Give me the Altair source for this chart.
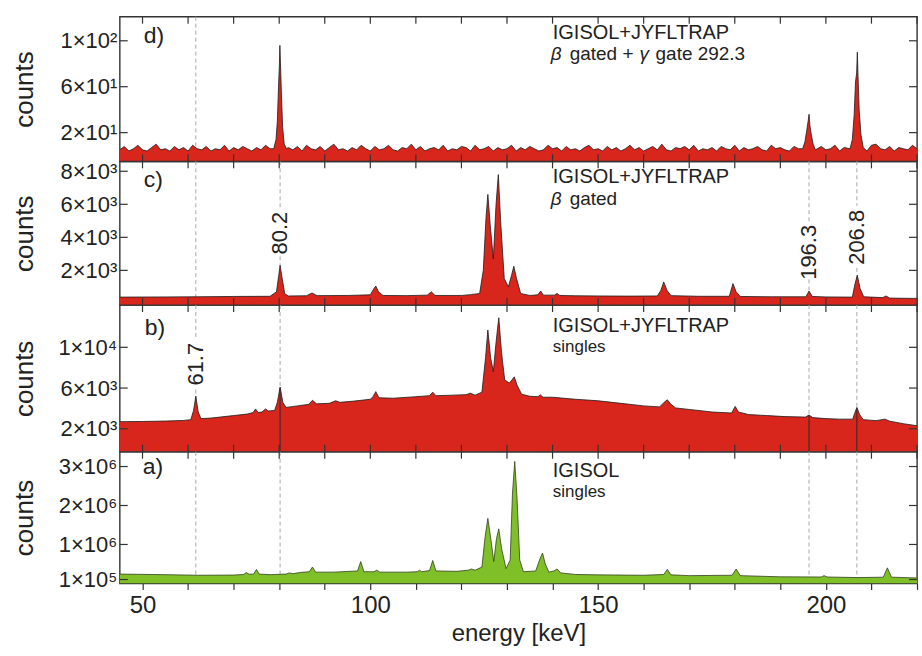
import math
import altair as alt
import pandas as pd

FONT = "Liberation Sans"
TEXT = "#222222"
RED = "#d9261c"
GREEN = "#7fbf27"
EDGE = "#1c1c1c"
GREEN_EDGE = "#34401f"
DASH = "#a9a9a9"
FRAME = "#333333"

X_DOMAIN = [45, 220]
PLOT_W = 799
X_TICKS = list(range(50, 221, 10))

# ---------------- panel d : beta gated + gamma gate 292.3 ----------------
d_base_energy = list(range(45, 221))
d_base_counts = [
    5, 8, 4, 6, 9, 5, 4, 7, 10, 5,
    6, 4, 8, 5, 7, 4, 9, 6, 5, 8,
    4, 6, 5, 9, 4, 7, 5, 8, 6, 4,
    7, 5, 9, 6, 7, 8, 6, 7, 5, 8,
    4, 9, 6, 5, 8, 4, 7, 10, 5, 6,
    4, 7, 5, 9, 6, 4, 8, 5, 6, 9,
    5, 4, 7, 6, 10, 5, 8, 4, 6, 7,
    5, 9, 4, 6, 5, 8, 7, 4, 9, 5,
    6, 8, 4, 7, 5, 6, 9, 4, 7, 5,
    8, 6, 4, 5, 9, 6, 7, 4, 8, 5,
    6, 4, 7, 9, 5, 6, 4, 8, 5, 7,
    4, 6, 9, 5, 7, 4, 6, 8, 5, 10,
    5, 4, 7, 6, 8, 5, 9, 4, 6, 5,
    7, 4, 8, 6, 5, 9, 4, 7, 5, 6,
    8, 5, 4, 9, 6, 7, 5, 4, 8, 6,
    5, 7, 6, 4, 8, 5, 6, 9, 4, 7,
    5, 6, 8, 7, 4, 9, 10, 6, 5, 8,
    4, 7, 6, 5, 9, 6,
]
d_peak_energy = [78.8, 79.3, 79.6, 79.85, 80.05, 80.15, 80.3, 80.5, 80.75, 81.1, 81.6,
                 194.9, 195.4, 195.8, 196.1, 196.3, 196.5, 196.8, 197.2, 197.7,
                 205.3, 205.8, 206.2, 206.5, 206.75, 206.9, 207.05, 207.3, 207.7, 208.2]
d_peak_counts = [6, 14, 30, 60, 80, 96, 78, 52, 25, 10, 6,
                 6, 12, 22, 30, 36, 26, 18, 10, 5,
                 6, 14, 35, 64, 72, 90, 70, 40, 18, 7]
d_peak_windows = [(78.5, 81.9), (194.6, 198.0), (205.0, 208.5)]

# ---------------- panel c : beta gated ----------------
c_energy = [45, 55, 62, 70, 78, 79.4, 79.9, 80.2, 80.6, 81.2, 82, 86, 87.2, 88.3, 95,
            100, 100.8, 101.2, 101.8, 102.8, 108, 112.5, 113.4, 114.2, 120, 122, 124,
            124.8, 125.4, 125.8, 126.3, 127.0, 127.6, 128.1, 128.6, 129.4, 130.3, 131.0,
            131.5, 132.1, 133, 135, 136.8, 137.4, 138.0, 140.4, 141, 141.6, 145, 150,
            157, 163, 163.8, 164.4, 165.1, 166, 172, 178.8, 179.6, 180.3, 181.2, 188,
            195.6, 196.3, 197, 200, 205.8, 206.4, 206.9, 207.5, 208.3, 212.5, 213.2,
            214, 220]
c_counts = [380, 390, 400, 420, 430, 700, 1700, 2300, 1600, 600, 450, 460, 630, 470, 480,
            520, 900, 1050, 700, 480, 470, 500, 700, 480, 480, 530, 600,
            2000, 5200, 6600, 4800, 2700, 6000, 7800, 5000, 1500, 1000, 1700,
            2250, 1500, 600, 480, 520, 750, 500, 500, 600, 480, 460, 450,
            440, 450, 800, 1300, 800, 470, 430, 430, 1200, 700, 420, 400,
            400, 750, 420, 390, 380, 1200, 1700, 900, 400, 350, 450,
            320, 300]

# ---------------- panel b : singles IGISOL+JYFLTRAP ----------------
b_energy = [45, 50, 55, 59, 60.6, 61.2, 61.7, 62.2, 62.8, 65, 70, 73, 74.3, 74.8, 75.4,
            76.2, 77.0, 77.6, 79.0, 79.6, 80.2, 80.8, 81.5, 84, 86.5, 87.3, 88.2, 91,
            92.4, 93.3, 96, 100, 100.6, 101.2, 101.9, 105, 110, 113, 113.7, 114.4, 118,
            121, 122, 123, 124.5, 125.3, 125.8, 126.4, 127.0, 127.6, 128.2, 128.8, 129.5,
            130.5, 131.1, 131.6, 132.2, 133.2, 135, 136.8, 137.3, 137.9, 140, 145, 150,
            155, 160, 163.5, 164.5, 165.2, 165.9, 167, 170, 175, 179.3, 180.1, 180.8,
            183, 187, 191, 195.5, 196.3, 197.1, 200, 203, 205.9, 206.3, 206.8, 207.4,
            208.2, 211, 213, 214, 217, 220]
b_counts = [2700, 2720, 2760, 2820, 2900, 3800, 5200, 3700, 3000, 3050, 3300, 3450, 3600, 3950, 3600,
            3650, 3950, 3750, 3800, 4600, 6100, 4600, 4100, 4250, 4400, 4800, 4450, 4500,
            4750, 4600, 4700, 4900, 5150, 5650, 5050, 5000, 5150, 5250, 5600, 5250, 5300,
            5350, 5500, 5300, 5600, 9000, 11700, 9000, 7600, 10500, 12900, 9500, 6800,
            6500, 6800, 7100, 6300, 5400, 5200, 5150, 5350, 5100, 5100, 4900, 4750,
            4500, 4250, 4150, 4600, 4850, 4450, 4050, 3900, 3650, 3550, 4200, 3650,
            3400, 3300, 3200, 3150, 3350, 3100, 3000, 2950, 2950, 3500, 4100, 3400,
            2900, 2800, 2950, 2750, 2500, 2300]

# ---------------- panel a : singles IGISOL ----------------
a_energy = [45, 55, 62, 70, 72.2, 72.8, 73.4, 74.4, 75.0, 75.6, 78, 81.5, 82.2, 83, 84.5,
            86.6, 87.3, 88.0, 92, 97.2, 97.9, 98.6, 100.8, 101.4, 102.1, 108, 110.3, 110.8,
            111.3, 113.0, 113.7, 114.4, 119, 121.5, 122.2, 123, 124.5, 125.2, 125.8, 126.5,
            127.1, 127.7, 128.2, 128.8, 129.8, 130.7, 131.2, 131.7, 132.2, 132.8, 133.6,
            136.3, 137.3, 137.8, 138.4, 139.2, 140.3, 141.0, 141.8, 145, 150, 160, 164.4,
            165.2, 166.0, 170, 179.4, 180.3, 181.2, 190, 199, 199.6, 200.3, 207, 212.6,
            213.5, 214.4, 220]
a_counts = [240000, 225000, 210000, 215000, 230000, 280000, 235000, 240000, 360000, 240000,
            225000, 240000, 270000, 250000, 280000, 300000, 420000, 290000, 290000, 320000,
            560000, 300000, 300000, 340000, 290000, 290000, 300000, 340000, 300000, 330000,
            590000, 320000, 310000, 340000, 370000, 340000, 420000, 1200000, 1670000,
            1100000, 560000, 1150000, 1400000, 900000, 380000, 600000, 2300000, 3130000,
            2200000, 600000, 300000, 320000, 650000, 780000, 500000, 290000, 320000,
            370000, 270000, 230000, 220000, 210000, 230000, 360000, 220000, 200000,
            210000, 370000, 200000, 170000, 165000, 200000, 165000, 150000, 160000,
            400000, 160000, 140000]

# dashed marker lines (energy, top, bottom) per panel
d_dash = {"energy": [61.7], "counts": [121], "counts2": [-5]}
c_dash = {"energy": [61.7, 80.2, 80.2, 196.3, 196.3, 206.8, 206.8],
          "counts": [8600, 8600, 2850, 8600, 1450, 8600, 2150],
          "counts2": [-100, 5750, -100, 4800, -100, 5900, -100]}
b_dash = {"energy": [61.7, 61.7, 80.2, 196.3, 206.8],
          "counts": [14150, 5850, 14150, 14150, 14150],
          "counts2": [10850, -250, -250, -250, -250]}
a_dash = {"energy": [61.7, 80.2, 196.3, 206.8],
          "counts": [3380000] * 4, "counts2": [0] * 4}
b_solid = {"energy": [80.2, 196.3, 206.8], "counts": [6000, 3300, 4000],
           "counts2": [-250, -250, -250]}

# peak value labels
c_peak_labels = {"energy": [80.2, 196.3, 206.8], "counts": [4260, 3090, 4000],
                 "label": ["80.2", "196.3", "206.8"]}
b_peak_labels = {"energy": [61.7], "counts": [8340], "label": ["61.7"]}

SUP = str.maketrans("0123456789", "⁰¹²³⁴⁵⁶⁷⁸⁹")


def sci_label(v):
    e = int(math.floor(math.log10(v) + 1e-9))
    m = int(round(v / 10 ** e))
    return f"{m}×10{str(e).translate(SUP)}"


def label_expr(values):
    parts = [f"datum.value == {v} ? '{sci_label(v)}'" for v in values]
    return " : ".join(parts) + " : ''"


def note(text, x, y, size, italic=False, align="left", baseline="alphabetic"):
    return alt.Chart(pd.DataFrame({"note": [text]})).mark_text(
        font=FONT, fontSize=size, fontStyle="italic" if italic else "normal",
        color=TEXT, align=align, baseline=baseline
    ).encode(x=alt.value(x), y=alt.value(y), text="note:N")


def panel(energy, counts, fill, edge, ydom, h, yticks, dash, notes,
          solid=None, peak_labels=None, bottom=False):
    xs = alt.Scale(domain=X_DOMAIN, nice=False, zero=False)
    ys = alt.Scale(domain=ydom, nice=False, zero=False)
    yaxis = alt.Axis(values=yticks, labelExpr=label_expr(yticks), title="counts",
                     titleX=-95, titleY=h / 2, titleAngle=270, titleAlign="center",
                     titleBaseline="middle", titleFont=FONT, titleFontSize=26,
                     titleFontWeight="normal", titleColor=TEXT, labelFont=FONT,
                     labelFontSize=22, labelColor=TEXT, labelPadding=3, ticks=False,
                     domain=False, grid=False, labelOverlap=False, labelFlush=False)
    if bottom:
        xaxis = alt.Axis(values=X_TICKS, labelExpr="datum.value % 50 == 0 ? datum.value : ''",
                         title="energy [keV]", titleFont=FONT, titleFontSize=24,
                         titleFontWeight="normal", titleColor=TEXT, titlePadding=4,
                         labelFont=FONT, labelFontSize=24, labelColor=TEXT, labelPadding=4,
                         tickSize=6, tickColor=FRAME, tickWidth=1.2, domain=False, grid=False,
                         labelOverlap=False, labelFlush=False)
    else:
        xaxis = None

    def X():
        return alt.X("energy:Q", scale=xs, axis=xaxis)

    def Y():
        return alt.Y("counts:Q", scale=ys, axis=yaxis)

    df = pd.DataFrame({"energy": energy, "counts": counts})
    layers = []
    layers.append(alt.Chart(pd.DataFrame(dash)).mark_rule(
        color=DASH, strokeDash=[4, 3], strokeWidth=1).encode(
        x=X(), y=Y(), y2="counts2:Q"))
    layers.append(alt.Chart(df).mark_area(
        color=fill, opacity=1, interpolate="linear", clip=True,
        line={"color": edge, "strokeWidth": 0.8}).encode(
        x=X(), y=Y(), y2=alt.Y2Datum(ydom[0])))
    if solid is not None:
        layers.append(alt.Chart(pd.DataFrame(solid)).mark_rule(
            color="#2a2a2a", strokeWidth=1).encode(x=X(), y=Y(), y2="counts2:Q"))
    if peak_labels is not None:
        layers.append(alt.Chart(pd.DataFrame(peak_labels)).mark_text(
            font=FONT, fontSize=22, color=TEXT, angle=270, align="center",
            baseline="middle").encode(x=X(), y=Y(), text="label:N"))
    # inward ticks
    tick_x = pd.DataFrame({"energy": X_TICKS})
    layers.append(alt.Chart(tick_x).mark_rule(color=FRAME, strokeWidth=1.2).encode(
        x=X(), y=alt.value(0), y2=alt.value(7)))
    if not bottom:
        layers.append(alt.Chart(tick_x).mark_rule(color=FRAME, strokeWidth=1.2).encode(
            x=X(), y=alt.value(h - 7), y2=alt.value(h)))
    tick_y = pd.DataFrame({"counts": yticks})
    layers.append(alt.Chart(tick_y).mark_rule(color=FRAME, strokeWidth=1.2).encode(
        y=Y(), x=alt.value(0), x2=alt.value(8)))
    layers.append(alt.Chart(tick_y).mark_rule(color=FRAME, strokeWidth=1.2).encode(
        y=Y(), x=alt.value(PLOT_W - 8), x2=alt.value(PLOT_W)))
    for n in notes:
        layers.append(note(*n))
    return alt.layer(*layers).properties(width=PLOT_W, height=h)


# merge panel d noise with peaks
d_rows = [(e, c) for e, c in zip(d_base_energy, d_base_counts)
          if not any(lo <= e <= hi for lo, hi in d_peak_windows)]
d_rows += list(zip(d_peak_energy, d_peak_counts))
d_rows.sort()
d_energy = [r[0] for r in d_rows]
d_counts = [r[1] for r in d_rows]

d_notes = [("d)", 24, 26, 23),
           ("IGISOL+JYFLTRAP", 434, 22, 20),
           ("β", 432, 43, 19, True),
           ("gated +", 451, 43, 19),
           ("γ", 521, 43, 19, True),
           ("gate 292.3", 537, 43, 19)]
c_notes = [("c)", 24, 26, 23),
           ("IGISOL+JYFLTRAP", 434, 22, 20),
           ("β", 432, 44, 19, True),
           ("gated", 451, 44, 19)]
b_notes = [("b)", 25, 30, 23),
           ("IGISOL+JYFLTRAP", 434, 27, 20),
           ("singles", 434, 47, 17)]
a_notes = [("a)", 23, 22, 23),
           ("IGISOL", 434, 25, 20),
           ("singles", 434, 45, 17)]

pd_ = panel(d_energy, d_counts, RED, EDGE, [-5, 121], 145, [20, 60, 100], d_dash, d_notes)
pc = panel(c_energy, c_counts, RED, EDGE, [-100, 8600], 144, [2000, 4000, 6000, 8000],
           c_dash, c_notes, peak_labels=c_peak_labels)
pb = panel(b_energy, b_counts, RED, EDGE, [-250, 14150], 147, [2000, 6000, 10000],
           b_dash, b_notes, solid=b_solid, peak_labels=b_peak_labels)
pa = panel(a_energy, a_counts, GREEN, GREEN_EDGE, [0, 3380000], 132,
           [100000, 1000000, 2000000, 3000000], a_dash, a_notes, bottom=True)

chart = alt.vconcat(pd_, pc, pb, pa, spacing=0, bounds="flush").properties(
    padding={"left": 11, "top": 14, "right": 3, "bottom": 2},
    background="white",
).configure_view(stroke=FRAME, strokeWidth=1.4)

chart.save("out.html", embed_options={"renderer": "svg", "actions": False})
